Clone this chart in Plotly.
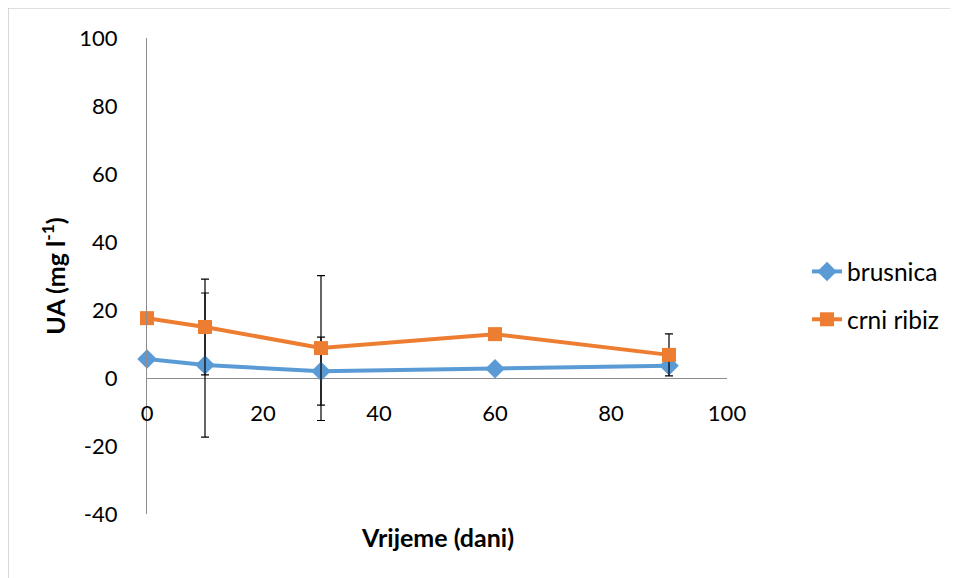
import plotly.graph_objects as go

days = [0, 10, 30, 60, 90]
brusnica = [5.6, 3.8, 2.0, 2.7, 3.6]
brusnica_err = [0.8, 21.2, 10.0, 0.8, 0.8]
crni_ribiz = [17.6, 15.0, 8.8, 12.9, 6.8]
crni_ribiz_err = [0.8, 14.1, 21.3, 0.8, 6.2]

x_ticks = [0, 20, 40, 60, 80, 100]
y_ticks = [-40, -20, 0, 20, 40, 60, 80, 100]
y_tick_text = ["-40", "-20", "0", "20", "40", "60", "80", "100"]

FONT = "Lato"
OFF = 8  # page offset of the figure inside the browser window
W, H = 950, 570
L, T = 147 - OFF, 38 - OFF
R = W - (727 - OFF)
B = H - (514 - OFF)
pw, ph = W - L - R, H - T - B

fig = go.Figure()
fig.add_trace(go.Scatter(
    x=days, y=brusnica, name="brusnica", mode="lines+markers",
    line=dict(color="#5B9BD5", width=4),
    marker=dict(symbol="diamond", size=15, color="#5B9BD5"),
    error_y=dict(type="data", array=brusnica_err, color="black", thickness=1.2, width=4),
    legendgroup="a", cliponaxis=False,
))
fig.add_trace(go.Scatter(
    x=days, y=crni_ribiz, name="crni ribiz", mode="lines+markers",
    line=dict(color="#ED7D31", width=4),
    marker=dict(symbol="square", size=14, color="#ED7D31"),
    error_y=dict(type="data", array=crni_ribiz_err, color="black", thickness=1.2, width=4),
    legendgroup="b", cliponaxis=False,
))

def px_x(p):
    return (p - OFF - L) / pw

def px_y(p):
    return (H - B - (p - OFF)) / ph

fig.update_layout(
    width=W, height=H,
    margin=dict(l=L, r=R, t=T, b=B),
    paper_bgcolor="white", plot_bgcolor="white",
    font=dict(family=FONT, size=22, color="black"),
    showlegend=True,
    legend=dict(x=px_x(807), y=px_y(249), xanchor="left", yanchor="top",
                font=dict(size=24.5), tracegroupgap=13, traceorder="grouped",
                bgcolor="rgba(0,0,0,0)"),
    xaxis=dict(range=[0, 100], tickvals=x_ticks, showgrid=False, zeroline=False,
               showline=False, ticks="", anchor="free", position=40 / 140,
               ticklabelstandoff=20, tickfont=dict(size=22)),
    yaxis=dict(range=[-40, 100], tickvals=y_ticks, ticktext=y_tick_text, showgrid=False,
               zeroline=True, zerolinecolor="#8C8C8C", zerolinewidth=1.2,
               showline=True, linecolor="#8C8C8C", linewidth=1.2, ticks="",
               ticklabelstandoff=24, tickfont=dict(size=22),
               title=dict(text="<b>UA (mg l<sup>-1</sup>)</b>", standoff=6,
                          font=dict(size=25))),
    annotations=[dict(text="<b>Vrijeme (dani)</b>", xref="paper", yref="paper",
                      x=px_x(438), y=px_y(537), xanchor="center", yanchor="middle",
                      showarrow=False, font=dict(size=25))],
    shapes=[dict(type="rect", xref="paper", yref="paper",
                 x0=px_x(8), x1=px_x(1000), y0=px_y(640), y1=px_y(8),
                 line=dict(color="#BFBFBF", width=1.2), layer="below")],
)

fig.write_html("out.html")
